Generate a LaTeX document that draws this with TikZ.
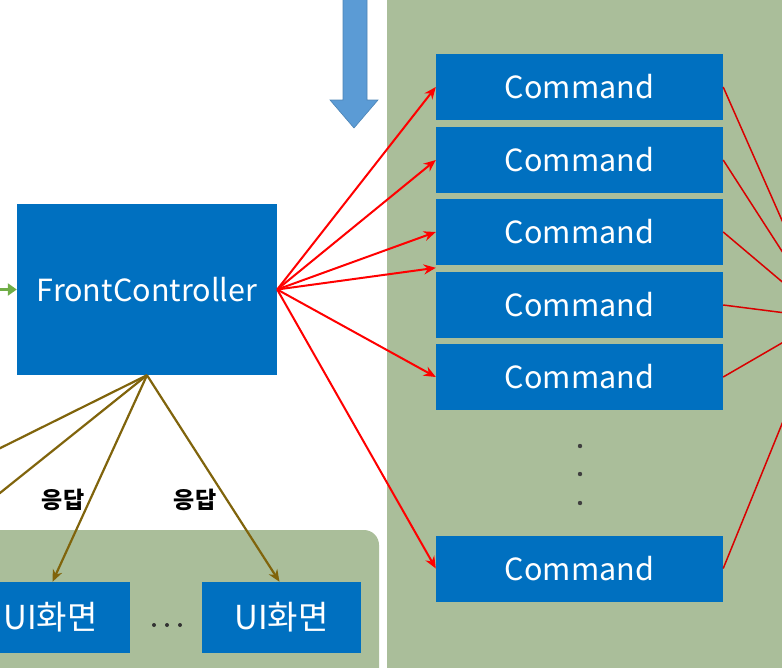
\documentclass[tikz,border=0pt]{standalone}
\usepackage{fontspec}
\setmainfont{Noto Sans CJK KR}
\usetikzlibrary{arrows.meta}

\definecolor{boxblue}{RGB}{0,112,192}
\definecolor{panelgreen}{RGB}{170,190,154}
\definecolor{arrowblue}{RGB}{91,155,213}
\definecolor{replyolive}{RGB}{128,100,12}
\definecolor{inputgreen}{RGB}{112,173,71}

\begin{document}
\begin{tikzpicture}[x=1pt, y=-1pt,
    blockbox/.style={fill=boxblue, text=white, inner sep=0pt, font=\fontsize{30.5}{34}\selectfont},
    callarrow/.style={draw=red, line width=2pt, -{Stealth[length=12pt, width=10pt]}},
    replyarrow/.style={draw=replyolive, line width=2.2pt, -{Stealth[length=12pt, width=10pt]}},
    modelline/.style={draw=red!85!black, line width=1.5pt}]
    \useasboundingbox (0,0) rectangle (782,667);
    \clip (0,0) rectangle (782,667);

    % panels
    \fill [panelgreen] (387,-10) rectangle (800,680);
    \fill [panelgreen, rounded corners=15pt] (-40,530) rectangle (379,700);

    % request arrow from above
    \draw [fill=arrowblue, draw=arrowblue!85!black, line width=0.6pt]
        (343,-10) -- (367,-10) -- (367,100) -- (378,100) -- (354,128)
        -- (330,100) -- (343,100) -- cycle;

    \node [blockbox, minimum width=260pt, minimum height=171pt] (fc) at (147,289.5) {FrontController};

    \node [blockbox, minimum width=287pt, minimum height=66pt] (cmd1) at (579.5,87) {Command};
    \node [blockbox, minimum width=287pt, minimum height=66pt] (cmd2) at (579.5,160) {Command};
    \node [blockbox, minimum width=287pt, minimum height=66pt] (cmd3) at (579.5,232) {Command};
    \node [blockbox, minimum width=287pt, minimum height=66pt] (cmd4) at (579.5,305) {Command};
    \node [blockbox, minimum width=287pt, minimum height=66pt] (cmd5) at (579.5,377) {Command};
    \node [blockbox, minimum width=287pt, minimum height=66pt] (cmd6) at (579.5,568.5) {Command};

    \node [blockbox, minimum width=159pt, minimum height=71pt, font=\fontsize{33}{36}\selectfont] (ui1) at (50.5,617.5) {UI화면};
    \node [blockbox, minimum width=159pt, minimum height=71pt, font=\fontsize{33}{36}\selectfont] (ui2) at (281.5,617.5) {UI화면};

    % dots
    \fill [black!75] (580,446) circle (2.2pt) (580,474) circle (2.2pt) (580,503) circle (2.2pt);
    \fill [black!80] (154,625) circle (2pt) (167,625) circle (2pt) (180,625) circle (2pt);

    % off-picture ends
    \coordinate (client) at (-30,289.5);
    \coordinate (model) at (825,318);
    \coordinate (back1) at (-60,478);
    \coordinate (back2) at (-60,541);

    \draw [inputgreen, line width=3pt, -{Triangle[length=9pt, width=12pt]}] (client) -- (fc.west);

    \draw [callarrow] (fc.east) -- (cmd1.west);
    \draw [callarrow] (fc.east) -- (cmd2.west);
    \draw [callarrow] (fc.east) -- (cmd3.west);
    \draw [callarrow] (fc.east) -- ([yshift=4pt]cmd4.north west);
    \draw [callarrow] (fc.east) -- (cmd5.west);
    \draw [callarrow] (fc.east) -- (cmd6.west);

    \draw [modelline] (cmd1.east) -- (model);
    \draw [modelline] (cmd2.east) -- (model);
    \draw [modelline] (cmd3.east) -- (model);
    \draw [modelline] (cmd4.east) -- (model);
    \draw [modelline] (cmd5.east) -- (model);
    \draw [modelline] (cmd6.east) -- (model);

    \draw [replyolive, line width=2.2pt] (fc.south) -- (back1);
    \draw [replyolive, line width=2.2pt] (fc.south) -- (back2);
    \draw [replyarrow] (fc.south) -- ([xshift=2pt]ui1.north);
    \draw [replyarrow] (fc.south) -- ([xshift=-2pt]ui2.north);

    \node [font=\fontsize{23}{26}\selectfont\bfseries] (ans1) at (63,500) {응답};
    \node [font=\fontsize{23}{26}\selectfont\bfseries] (ans2) at (195,500) {응답};
\end{tikzpicture}
\end{document}
